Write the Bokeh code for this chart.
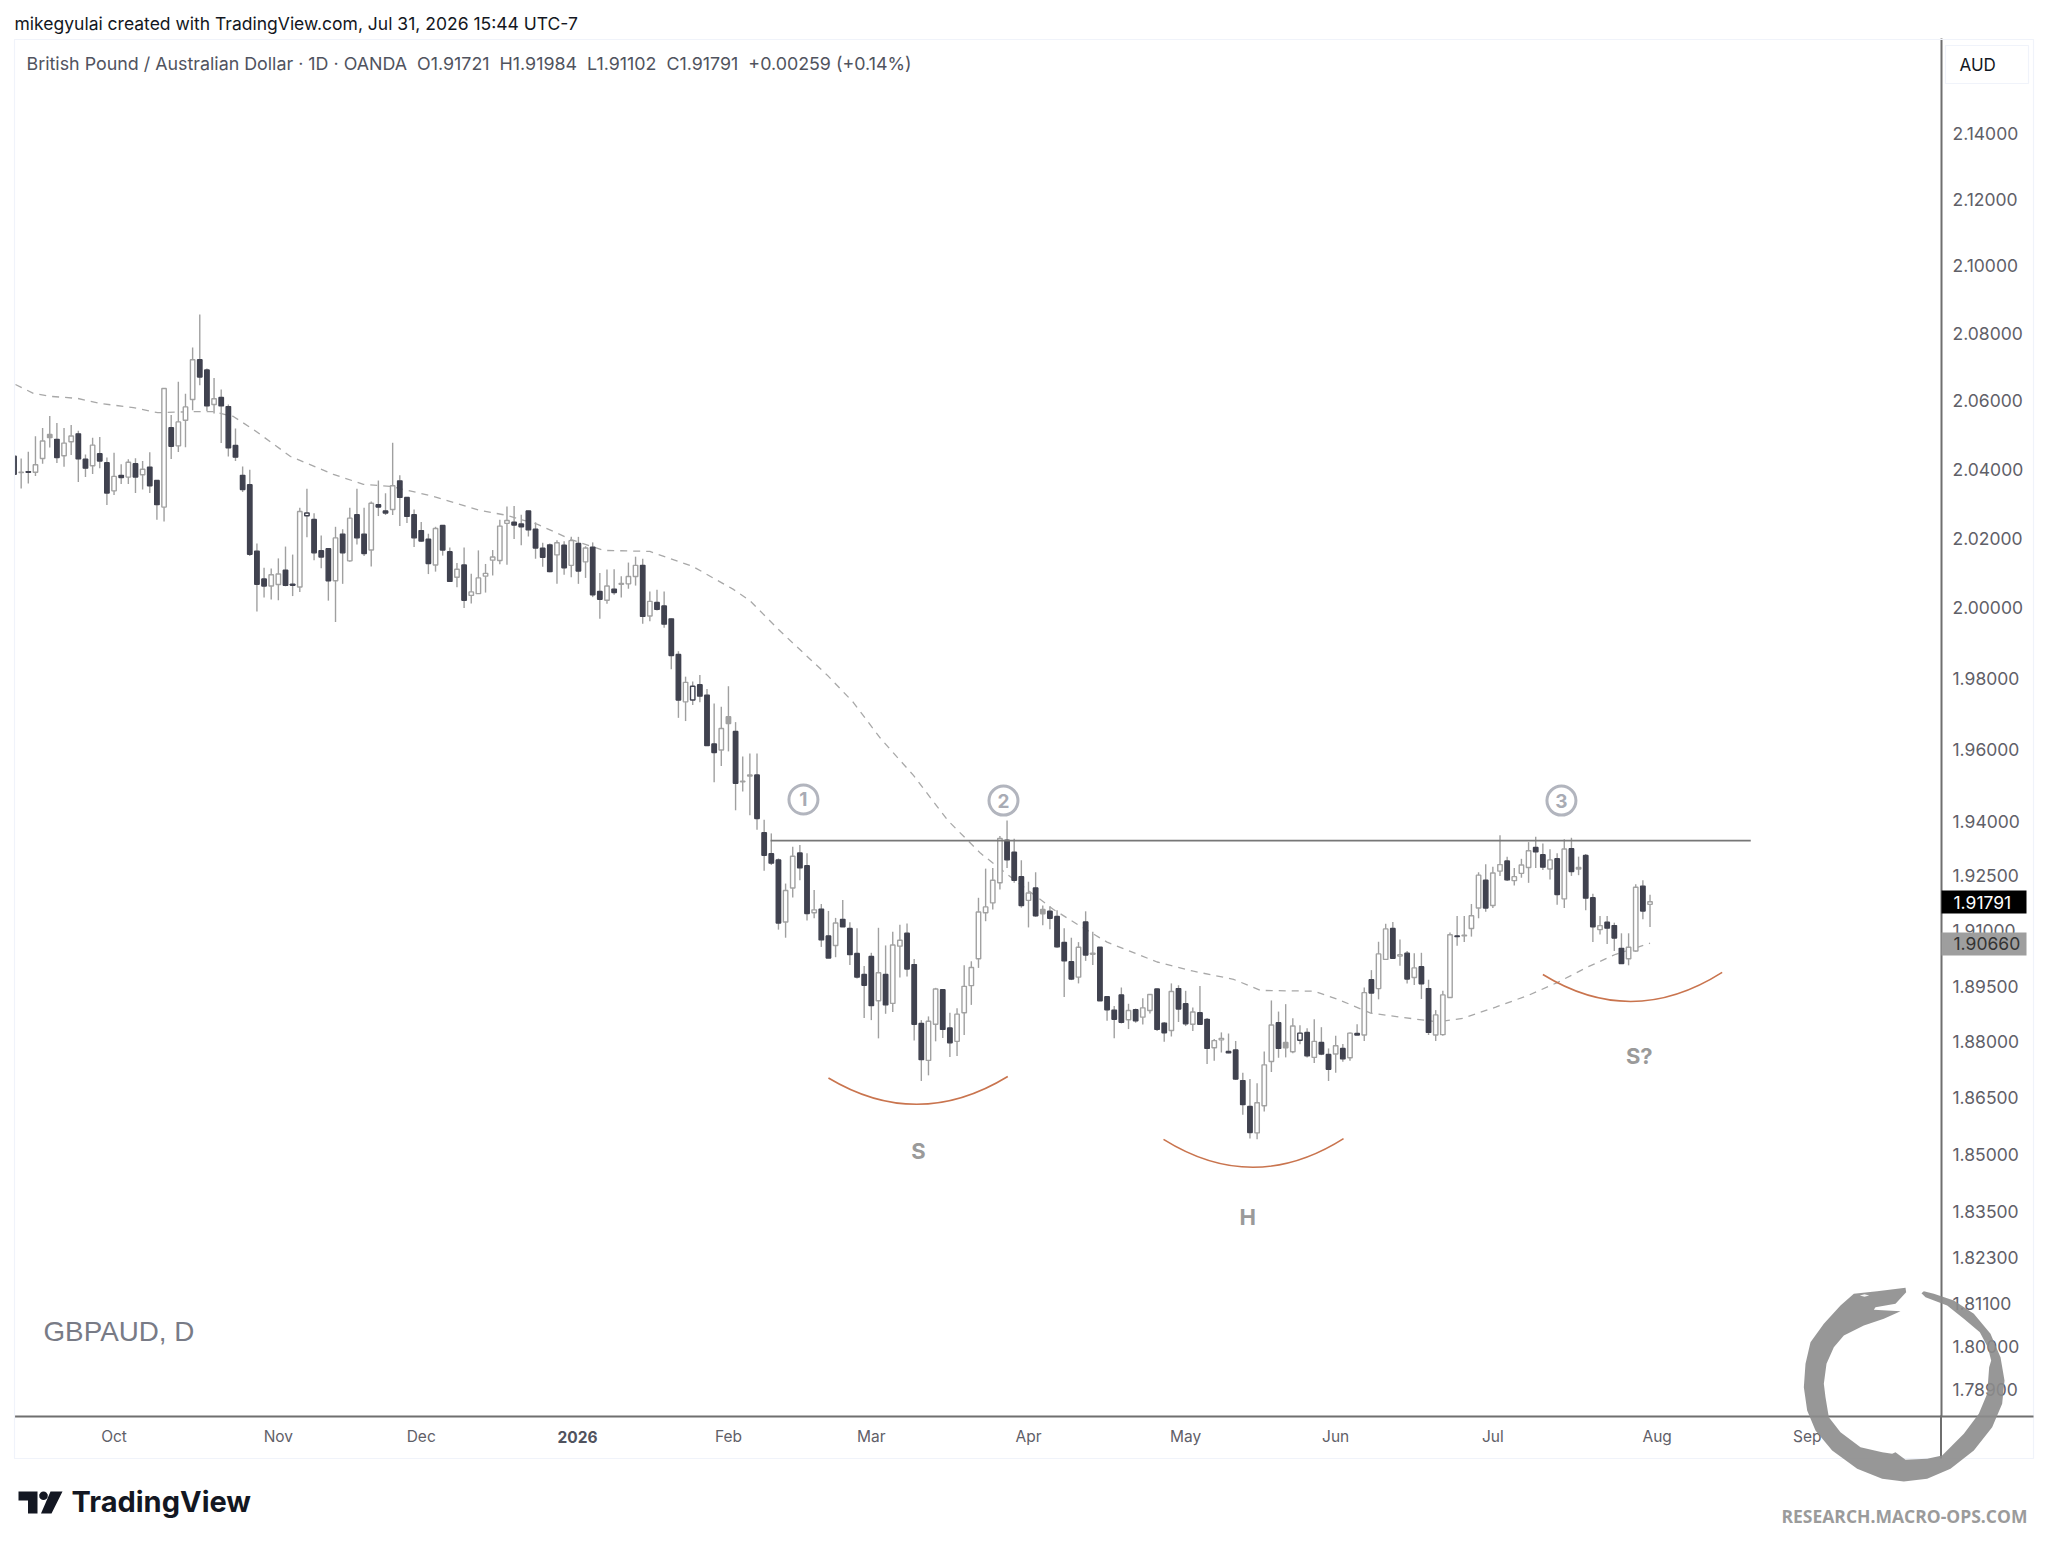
from bokeh.plotting import figure
from bokeh.models import FixedTicker, NumeralTickFormatter, Range1d, ColumnDataSource
from bokeh.core.properties import value
from bokeh.embed import file_html
from bokeh.resources import INLINE
import math

# ---------- data: daily GBPAUD bars ----------
opens = [
2.0438,2.0390,2.0393,2.0391,2.0431,2.0492,2.0487,2.0439,2.0480,2.0503,
2.0429,2.0410,2.0445,2.0419,2.0337,2.0382,2.0377,2.0416,2.0384,2.0406,
2.0367,2.0290,2.0521,2.0468,2.0543,2.0604,2.0721,2.0691,2.0589,2.0610,
2.0583,2.0469,2.0382,2.0355,2.0163,2.0083,2.0063,2.0067,2.0108,2.0068,
2.0060,2.0265,2.0254,2.0164,2.0170,2.0078,2.0212,2.0135,2.0268,2.0212,
2.0166,2.0297,2.0279,2.0283,2.0366,2.0318,2.0268,2.0222,2.0197,2.0123,
2.0237,2.0161,2.0088,2.0123,2.0036,2.0041,2.0091,2.0137,2.0136,2.0243,
2.0246,2.0241,2.0279,2.0226,2.0171,2.0181,2.0152,2.0180,2.0122,2.0185,
2.0132,2.0174,2.0047,2.0022,2.0054,2.0068,2.0069,2.0090,2.0122,1.9977,
2.0016,2.0006,1.9969,1.9868,1.9734,1.9739,1.9782,1.9753,1.9616,1.9599,
1.9673,1.9651,1.9510,1.9526,1.9529,1.9369,1.9311,1.9294,1.9124,1.9217,
1.9313,1.9278,1.9149,1.9159,1.9086,1.9060,1.9131,1.9106,1.9038,1.8981,
1.9030,1.8910,1.8981,1.8903,1.9058,1.9093,1.9008,1.8849,1.8750,1.8847,
1.8940,1.8837,1.8801,1.8878,1.8951,1.9024,1.9149,1.9176,1.9231,1.9348,
1.9315,1.9248,1.9183,1.9217,1.9146,1.9153,1.9139,1.9068,1.9016,1.8974,
1.9124,1.9036,1.9055,1.8921,1.8885,1.8926,1.8859,1.8886,1.8866,1.8884,
1.8942,1.8850,1.8830,1.8943,1.8902,1.8847,1.8878,1.8860,1.8784,1.8805,
1.8774,1.8778,1.8696,1.8627,1.8557,1.8629,1.8747,1.8851,1.8784,1.8773,
1.8804,1.8825,1.8758,1.8798,1.8766,1.8767,1.8782,1.8757,1.8822,1.8818,
1.8967,1.8943,1.9022,1.9106,1.9031,1.9039,1.8973,1.9002,1.8943,1.8818,
1.8819,1.8919,1.9086,1.9086,1.9106,1.9162,1.9238,1.9169,1.9263,1.9291,
1.9237,1.9257,1.9273,1.9328,1.9308,1.9269,1.9297,1.9187,1.9325,1.9269,
1.9306,1.9190,1.9103,1.9123,1.9114,1.9052,1.9024,1.9045,1.9222,1.91721]
highs = [
2.0453,2.0431,2.0451,2.0496,2.0520,2.0555,2.0535,2.0520,2.0529,2.0512,
2.0443,2.0492,2.0494,2.0434,2.0448,2.0414,2.0429,2.0432,2.0424,2.0449,
2.0367,2.0637,2.0558,2.0656,2.0621,2.0757,2.0855,2.0695,2.0667,2.0633,
2.0589,2.0519,2.0408,2.0398,2.0185,2.0115,2.0113,2.0142,2.0176,2.0153,
2.0288,2.0343,2.0272,2.0208,2.0171,2.0233,2.0226,2.0288,2.0343,2.0288,
2.0306,2.0367,2.0330,2.0477,2.0382,2.0319,2.0283,2.0247,2.0213,2.0233,
2.0238,2.0173,2.0129,2.0173,2.0098,2.0165,2.0126,2.0166,2.0253,2.0292,
2.0293,2.0268,2.0279,2.0246,2.0187,2.0185,2.0194,2.0191,2.0204,2.0204,
2.0177,2.0188,2.0100,2.0110,2.0111,2.0091,2.0130,2.0147,2.0141,2.0047,
2.0052,2.0047,1.9970,1.9877,1.9805,1.9791,1.9810,1.9770,1.9729,1.9720,
1.9778,1.9677,1.9581,1.9589,1.9589,1.9405,1.9367,1.9298,1.9229,1.9330,
1.9335,1.9312,1.9211,1.9173,1.9154,1.9135,1.9184,1.9123,1.9107,1.9004,
1.9040,1.9108,1.9060,1.9097,1.9116,1.9120,1.9023,1.8858,1.8868,1.8945,
1.8942,1.8878,1.8890,1.9006,1.9017,1.9190,1.9270,1.9272,1.9360,1.9403,
1.9352,1.9293,1.9234,1.9260,1.9169,1.9167,1.9156,1.9107,1.9081,1.9069,
1.9153,1.9097,1.9056,1.8921,1.8896,1.8946,1.8902,1.8889,1.8917,1.8928,
1.8943,1.8853,1.8957,1.8952,1.8937,1.8892,1.8950,1.8864,1.8807,1.8825,
1.8822,1.8802,1.8717,1.8700,1.8689,1.8774,1.8911,1.8881,1.8901,1.8863,
1.8844,1.8836,1.8860,1.8839,1.8782,1.8816,1.8794,1.8825,1.8847,1.8946,
1.8993,1.9070,1.9119,1.9124,1.9076,1.9045,1.9039,1.9040,1.8967,1.8885,
1.8937,1.9095,1.9140,1.9140,1.9173,1.9260,1.9282,1.9275,1.9362,1.9303,
1.9272,1.9297,1.9343,1.9358,1.9339,1.9323,1.9312,1.9351,1.9355,1.9303,
1.9310,1.9201,1.9140,1.9140,1.9122,1.9093,1.9093,1.9227,1.9238,1.91984]
lows = [
2.0383,2.0344,2.0358,2.0380,2.0416,2.0463,2.0418,2.0407,2.0441,2.0363,
2.0377,2.0386,2.0403,2.0296,2.0325,2.0357,2.0357,2.0331,2.0341,2.0331,
2.0253,2.0248,2.0430,2.0450,2.0464,2.0572,2.0646,2.0570,2.0563,2.0476,
2.0437,2.0424,2.0334,2.0149,1.9990,2.0030,2.0024,2.0022,2.0062,2.0034,
2.0046,2.0203,2.0137,2.0114,2.0021,1.9960,2.0069,2.0132,2.0182,2.0149,
2.0119,2.0264,2.0267,2.0267,2.0235,2.0244,2.0175,2.0190,2.0097,2.0104,
2.0150,2.0074,2.0059,2.0000,2.0013,2.0040,2.0044,2.0093,2.0125,2.0124,
2.0198,2.0180,2.0205,2.0141,2.0118,2.0102,2.0069,2.0095,2.0088,2.0069,
2.0086,2.0031,1.9969,2.0012,2.0038,2.0030,2.0055,2.0064,1.9955,1.9962,
1.9993,1.9944,1.9826,1.9689,1.9680,1.9725,1.9733,1.9611,1.9509,1.9554,
1.9595,1.9431,1.9483,1.9417,1.9377,1.9264,1.9280,1.9103,1.9081,1.9191,
1.9238,1.9128,1.9134,1.9056,1.9026,1.9028,1.9111,1.9007,1.8970,1.8864,
1.8858,1.8809,1.8875,1.8880,1.8973,1.8976,1.8803,1.8695,1.8710,1.8801,
1.8810,1.8759,1.8762,1.8818,1.8899,1.8999,1.9126,1.9158,1.9213,1.9272,
1.9231,1.9163,1.9109,1.9138,1.9115,1.9104,1.9054,1.8920,1.8966,1.8957,
1.9018,1.9007,1.8910,1.8856,1.8809,1.8849,1.8834,1.8851,1.8846,1.8876,
1.8829,1.8800,1.8814,1.8853,1.8842,1.8829,1.8845,1.8740,1.8749,1.8771,
1.8769,1.8698,1.8605,1.8542,1.8540,1.8614,1.8719,1.8757,1.8758,1.8769,
1.8793,1.8758,1.8743,1.8764,1.8695,1.8717,1.8746,1.8749,1.8818,1.8802,
1.8876,1.8914,1.9022,1.9025,1.9005,1.8957,1.8953,1.8915,1.8818,1.8802,
1.8816,1.8918,1.9059,1.9069,1.9084,1.9134,1.9152,1.9162,1.9250,1.9236,
1.9224,1.9245,1.9231,1.9272,1.9266,1.9240,1.9171,1.9162,1.9250,1.9252,
1.9156,1.9069,1.9090,1.9064,1.9045,1.9010,1.9006,1.9043,1.9131,1.91102]
closes = [
2.0385,2.0391,2.0391,2.0413,2.0482,2.0501,2.0434,2.0476,2.0497,2.0430,
2.0403,2.0470,2.0424,2.0331,2.0379,2.0376,2.0420,2.0377,2.0400,2.0352,
2.0297,2.0636,2.0467,2.0538,2.0582,2.0721,2.0670,2.0585,2.0606,2.0585,
2.0462,2.0435,2.0341,2.0154,2.0068,2.0063,2.0095,2.0097,2.0065,2.0065,
2.0277,2.0273,2.0158,2.0146,2.0078,2.0201,2.0158,2.0258,2.0201,2.0156,
2.0301,2.0290,2.0273,2.0352,2.0318,2.0263,2.0201,2.0192,2.0127,2.0228,
2.0166,2.0076,2.0111,2.0022,2.0046,2.0086,2.0099,2.0146,2.0235,2.0251,
2.0238,2.0233,2.0224,2.0172,2.0145,2.0104,2.0187,2.0115,2.0193,2.0106,
2.0172,2.0038,2.0025,2.0063,2.0044,2.0070,2.0090,2.0122,1.9976,2.0019,
1.9996,1.9954,1.9865,1.9739,1.9789,1.9778,1.9750,1.9611,1.9592,1.9659,
1.9692,1.9506,1.9512,1.9529,1.9408,1.9307,1.9285,1.9121,1.9210,1.9304,
1.9272,1.9147,1.9157,1.9075,1.9026,1.9121,1.9111,1.9035,1.8974,1.8952,
1.8897,1.8986,1.8899,1.9061,1.9074,1.8996,1.8847,1.8752,1.8855,1.8942,
1.8833,1.8797,1.8874,1.8949,1.9000,1.9151,1.9165,1.9238,1.9353,1.9294,
1.9238,1.9169,1.9203,1.9141,1.9158,1.9134,1.9056,1.9018,1.8969,1.9055,
1.9034,1.9039,1.8910,1.8886,1.8860,1.8852,1.8884,1.8856,1.8891,1.8927,
1.8833,1.8824,1.8935,1.8888,1.8848,1.8880,1.8847,1.8782,1.8803,1.8809,
1.8770,1.8700,1.8632,1.8558,1.8637,1.8738,1.8845,1.8782,1.8798,1.8842,
1.8823,1.8762,1.8801,1.8767,1.8726,1.8789,1.8754,1.8823,1.8818,1.8932,
1.8931,1.9037,1.9105,1.9025,1.9035,1.8969,1.8999,1.8956,1.8825,1.8872,
1.8926,1.9089,1.9084,1.9088,1.9141,1.9252,1.9162,1.9258,1.9281,1.9239,
1.9248,1.9280,1.9319,1.9316,1.9274,1.9294,1.9199,1.9324,1.9262,1.9273,
1.9189,1.9111,1.9114,1.9107,1.9080,1.9011,1.9055,1.9219,1.9154,1.91791]

solid_gray_bars = [5, 100, 144, 178]
dark_outline_bars = [41, 95, 180]

ma_bar = [0.2,2.7,5.1,8.9,12.1,16.7,20.1,24.7,27.9,30.7,33.5,38.7,44.7,48.9,52.7,58.7,65.3,69,73.3,77.9,
          82.5,89,95,100.7,103,107.3,113.9,117.5,121.3,125.9,130.7,135.3,140.5,145.5,149.3,153,160,165.1,
          170.7,174.5,182,185.3,189.9,194.1,199.3,202.8,207.4,212,216.1,220.1,224.2,229]
ma_val = [2.0648,2.0622,2.0613,2.0607,2.0592,2.0580,2.0565,2.0568,2.0568,2.0554,2.0516,2.0437,2.0385,2.0356,2.0350,2.0321,2.0280,2.0266,2.0240,2.0197,
          2.0165,2.0162,2.0119,2.0053,2.0021,1.9933,1.9808,1.9732,1.9631,1.9528,1.9403,1.9312,1.9232,1.9158,1.9112,1.9069,1.9015,1.8990,
          1.8968,1.8938,1.8936,1.8914,1.8877,1.8866,1.8853,1.8863,1.8893,1.8925,1.8960,1.9000,1.9036,1.9066]

neck_level = 1.9347
neck_bars = [105.9, 243.1]

y_ticks = [2.14,2.12,2.10,2.08,2.06,2.04,2.02,2.00,1.98,1.96,1.94,1.925,1.91,1.895,1.88,1.865,1.85,1.835,1.823,1.811,1.80,1.789]
month_bars = [14,37,57,100,120,142,164,185,207,230,251]
month_names = ["Oct","Nov","Dec","Feb","Mar","Apr","May","Jun","Jul","Aug","Sep"]

marks = [("1",110.5,1.9461),("2",138.5,1.9458),("3",216.6,1.9458)]
pattern_labels = [("S",126.6,1.8508),("H",172.7,1.8337),("S?",227.5,1.8763)]
arc_x0=[114.0,160.9,214.0]; arc_x1=[139.1,186.1,239.1]; arc_cx=[126.5,173.5,226.5]
arc_y0=[1.8703,1.8540,1.8981]; arc_y1=[1.8707,1.8542,1.8987]; arc_cy=[1.8561,1.8392,1.8833]

# ---------- main chart ----------
W, H = 2040, 1540
FL, FT, FR, FB = 14, 38, 1940.5, 1416

p = figure(width=W, height=H, output_backend="svg", toolbar_location=None,
           x_range=Range1d(0.066, 269.8), y_range=Range1d(1.78212, 2.16927),
           y_axis_type="log", y_axis_location="right",
           min_border_left=FL, min_border_top=FT, min_border_right=int(W-FR), min_border_bottom=H-FB)
p.outline_line_color = None
p.background_fill_color = "white"
p.xgrid.visible = False
p.ygrid.visible = False

ax_col = "#6f6f6f"; lab_col = "#5f6068"
yax = p.yaxis[0]
yax.ticker = FixedTicker(ticks=y_ticks, minor_ticks=[])
yax.formatter = NumeralTickFormatter(format="0.00000")
yax.major_tick_line_color = None; yax.minor_tick_line_color = None
yax.axis_line_color = ax_col; yax.axis_line_width = 2
yax.major_label_text_font = "Inter"; yax.major_label_text_font_size = "17.5px"
yax.major_label_text_color = lab_col; yax.major_label_standoff = 5
xax = p.xaxis[0]
xax.ticker = FixedTicker(ticks=month_bars, minor_ticks=[])
xax.major_label_overrides = {b: n for b, n in zip(month_bars, month_names)}
xax.major_tick_line_color = None; xax.minor_tick_line_color = None
xax.axis_line_color = ax_col; xax.axis_line_width = 2
xax.major_label_text_font = "Inter"; xax.major_label_text_font_size = "15.5px"
xax.major_label_text_color = lab_col; xax.major_label_standoff = 4

wick = "#a0a0a0"; dark = "#40424f"
xs = list(range(len(closes)))
fills, lines = [], []
for i in xs:
    if closes[i] < opens[i]:
        fills.append(dark); lines.append(dark)
    elif i in solid_gray_bars:
        fills.append("#a0a0a0"); lines.append("#a0a0a0")
    elif i in dark_outline_bars:
        fills.append("white"); lines.append(dark)
    else:
        fills.append("white"); lines.append("#a2a2a2")
src = ColumnDataSource(dict(x=xs, o=opens, h=highs, l=lows, c=closes, f=fills, e=lines))
p.segment("x", "h", "x", "l", source=src, line_color=wick, line_width=1.4)
p.line(ma_bar, ma_val, line_color="#a8a8a8", line_width=1.3, line_dash="7 6")
p.vbar(x="x", top="o", bottom="c", width=0.62, source=src, fill_color="f", line_color="e", line_width=1.4)
p.line(neck_bars, [neck_level, neck_level], line_color="#777777", line_width=1.7)
p.quadratic(arc_x0, arc_y0, arc_x1, arc_y1, arc_cx, arc_cy, line_color="#c9744e", line_width=1.6)
p.scatter([m[1] for m in marks], [m[2] for m in marks], marker="circle", size=29,
          fill_color=None, line_color="#b2b5be", line_width=3)
p.text([m[1] for m in marks], [m[2] for m in marks], text=[m[0] for m in marks], text_font=value("Inter"),
       text_font_size="19px", text_color="#a8abb4", text_align="center", text_baseline="middle", text_font_style="bold")
p.text([m[1] for m in pattern_labels], [m[2] for m in pattern_labels], text=[m[0] for m in pattern_labels],
       text_font=value("Inter"), text_font_size="22px", text_color="#9a9a9a", text_align="center",
       text_baseline="middle", text_font_style="bold")

# ---------- page furniture: transparent figure laid over the chart ----------
ov = figure(width=W, height=H, output_backend="svg", toolbar_location=None,
            x_range=Range1d(0, W), y_range=Range1d(H, 0), x_axis_location=None, y_axis_location=None,
            min_border=0, background_fill_color=None, border_fill_color=None, outline_line_color=None,
            styles={"position": "absolute", "top": "0px", "left": "0px"})
ov.xgrid.visible = False
ov.ygrid.visible = False

def label(t, x, y, size, color, style="normal", font="Inter", align="left"):
    ov.text([x], [y], text=[t], text_font=value(font), text_font_size=f"{size}px", text_color=color,
            text_font_style=style, text_align=align, text_baseline="middle")

def poly(px, py, fill=None, line=None, lw=1, alpha=1.0):
    ov.patch(px, py, fill_color=fill, fill_alpha=alpha if fill else 0, line_color=line,
             line_alpha=1 if line else 0, line_width=lw)

def rect(x0, y0, x1, y1, **k):
    poly([x0, x1, x1, x0], [y0, y0, y1, y1], **k)

rect(14, 39, 2033, 1458, line="#f0f3fa", lw=1.2)
rect(1939.5, 1415, 1941.5, 1458, fill=ax_col)
rect(1941, 1415, 2033, 1417, fill=ax_col)
rect(1945, 45, 2028, 83, line="#f0f3fa", lw=1.2)
label("AUD", 1959, 64, 17, "#131722")

label("mikegyulai created with TradingView.com, Jul 31, 2026 15:44 UTC-7", 14, 23, 17.5, "#131722")
label("British Pound / Australian Dollar \u00b7 1D \u00b7 OANDA\u00a0\u00a0O1.91721\u00a0\u00a0H1.91984\u00a0\u00a0L1.91102\u00a0\u00a0C1.91791\u00a0\u00a0+0.00259 (+0.14%)",
      26, 63, 17.85, "#50535e")
label("GBPAUD, D", 43, 1331, 27.8, "#787b86", font="Liberation Sans")
label("2026", 577, 1436, 15.5, "#50535e", style="bold", align="center")

# price tags
rect(1941, 890, 2026, 913, fill="#000000")
label("1.91791", 1953, 902, 17.5, "#ffffff")
rect(1941, 932, 2026, 955, fill="#9e9e9e")
label("1.90660", 1953, 943, 17.5, "#333333")

# TradingView logo and wordmark
dark_logo = "#131722"
poly([18, 37, 37, 27.5, 27.5, 18], [1491, 1491, 1513, 1513, 1500, 1500], fill=dark_logo)
poly([43 + 4.3*math.cos(t/8*math.pi) for t in range(16)], [1495.3 + 4.3*math.sin(t/8*math.pi) for t in range(16)], fill=dark_logo)
poly([50, 62, 51, 40.5], [1491, 1491, 1513, 1513], fill=dark_logo)
label("TradingView", 71, 1501, 29, dark_logo, style="bold", font="Inter")
label("RESEARCH.MACRO-OPS.COM", 1781, 1515, 17.5, "#9b9b9b", style="bold", font="Open Sans")

ring = [(615,112),(530,122),(460,130),(420,165),(370,220),(330,275),(315,340),(310,410),(320,480),(345,540),
        (395,600),(470,655),(545,685),(610,693),(680,685),(750,655),(820,600),(875,530),(905,460),(912,390),
        (900,320),(870,250),(820,190),(760,150),(700,130),(670,122),(663,128),(675,140),(740,165),(790,205),
        (838,245),(862,290),(872,330),(866,350),(860,430),(835,490),(790,550),(725,615),(680,625),(615,628),(585,605),
        (575,610),(545,605),(480,590),(420,545),(385,500),(375,440),(370,400),(378,340),(400,290),(430,255),
        (490,225),(550,205),(600,182),(520,178),(525,170),(585,160),(617,125)]
poly([1700 + a/3 for a, b in ring], [1250 + b/3 for a, b in ring], fill="#8c8c8c", alpha=0.9)
eye = [(478,135),(492,131),(506,135),(492,139)]
poly([1700 + a/3 for a, b in eye], [1250 + b/3 for a, b in eye], fill="#ffffff", alpha=0.9)

open("out.html", "w").write(file_html([p, ov], INLINE))
